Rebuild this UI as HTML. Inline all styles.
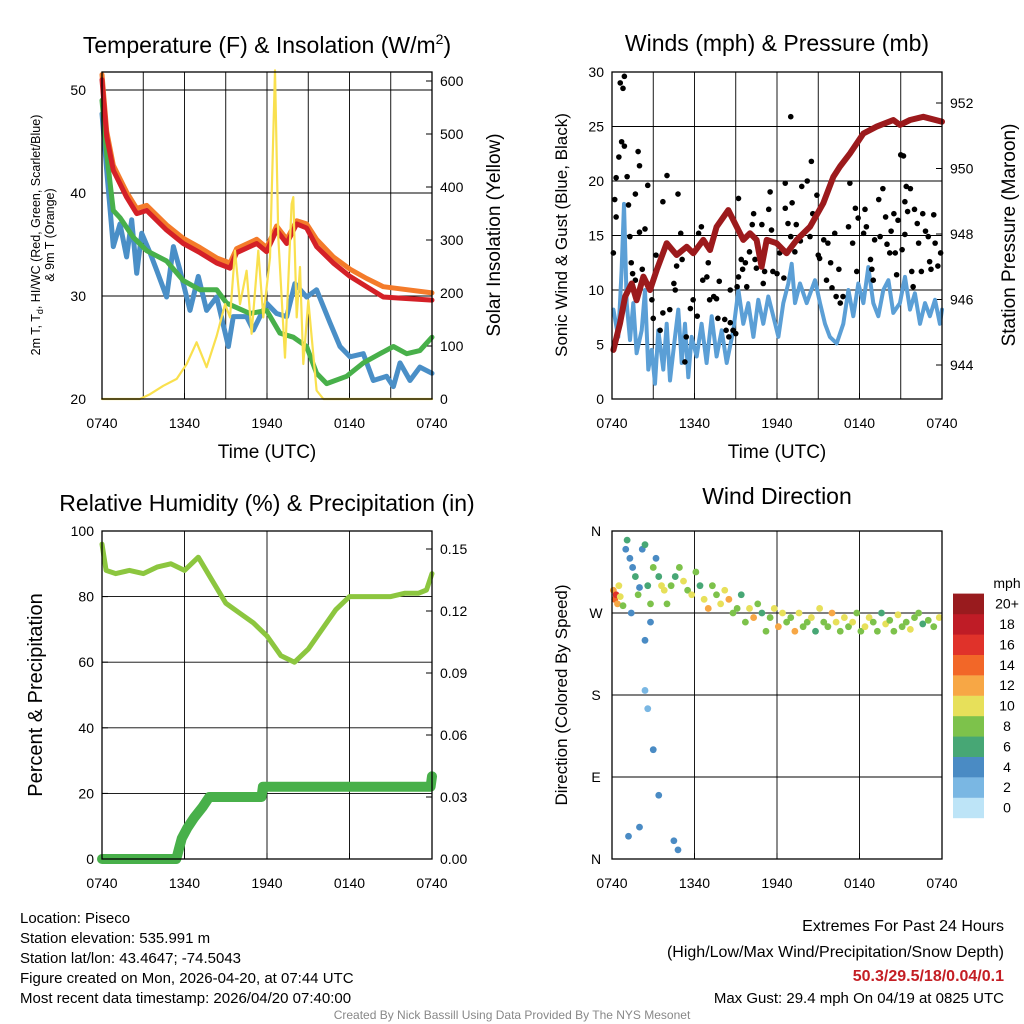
<!DOCTYPE html>
<html><head><meta charset="utf-8"><style>
html,body{margin:0;padding:0;background:#fff}
svg{display:block;font-family:"Liberation Sans",sans-serif}
</style></head><body>
<svg id="fig" width="1024" height="1024" viewBox="0 0 1024 1024" xmlns="http://www.w3.org/2000/svg">
<g><text x="267" y="53" font-size="23" text-anchor="middle">Temperature (F) &amp; Insolation (W/m<tspan dy="-9" font-size="14">2</tspan><tspan dy="9">)</tspan></text></g>
<text x="777" y="51" font-size="23" text-anchor="middle">Winds (mph) &amp; Pressure (mb)</text>
<text x="267" y="511" font-size="23" text-anchor="middle">Relative Humidity (%) &amp; Precipitation (in)</text>
<text x="777" y="504" font-size="23" text-anchor="middle">Wind Direction</text>
<text x="267" y="458" font-size="19" text-anchor="middle">Time (UTC)</text>
<text x="777" y="458" font-size="19" text-anchor="middle">Time (UTC)</text>
<g transform="translate(40,235) rotate(-90)"><text x="0" y="0" font-size="12.5" text-anchor="middle">2m T, T<tspan dy="3" font-size="9">d</tspan><tspan dy="-3">, HI/WC (Red, Green, Scarlet/Blue)</tspan></text><text x="0" y="14" font-size="12.5" text-anchor="middle">&amp; 9m T (Orange)</text></g>
<text transform="translate(500,235) rotate(-90)" font-size="19" text-anchor="middle">Solar Insolation (Yellow)</text>
<text transform="translate(567,235) rotate(-90)" font-size="17" text-anchor="middle">Sonic Wind &amp; Gust (Blue, Black)</text>
<text transform="translate(1015,235) rotate(-90)" font-size="19" text-anchor="middle">Station Pressure (Maroon)</text>
<text transform="translate(42,695) rotate(-90)" font-size="20" text-anchor="middle">Percent &amp; Precipitation</text>
<text transform="translate(567,695) rotate(-90)" font-size="17" text-anchor="middle">Direction (Colored By Speed)</text>
<g font-size="15">
<text x="20" y="923">Location: Piseco</text>
<text x="20" y="943">Station elevation: 535.991 m</text>
<text x="20" y="963">Station lat/lon: 43.4647; -74.5043</text>
<text x="20" y="983">Figure created on Mon, 2026-04-20, at 07:44 UTC</text>
<text x="20" y="1003">Most recent data timestamp: 2026/04/20 07:40:00</text>
</g>
<g font-size="16" text-anchor="end">
<text x="1004" y="931">Extremes For Past 24 Hours</text>
<text x="1004" y="957">(High/Low/Max Wind/Precipitation/Snow Depth)</text>
<text x="1004" y="981" fill="#c41e24" font-weight="bold">50.3/29.5/18/0.04/0.1</text>
<text x="1004" y="1003" font-size="15">Max Gust: 29.4 mph On 04/19 at 0825 UTC</text>
</g>
<text x="512" y="1019" font-size="12" fill="#888" text-anchor="middle">Created By Nick Bassill Using Data Provided By The NYS Mesonet</text>
<g id="marks"></g>
</svg>
<script>
// ---- data ----
const timeLabels = ["0740","1340","1940","0140","0740"];
const redHours = [0,0.34,0.82,1.79,2.52,3.25,4.70,5.91,7.13,8.34,9.31,9.79,11.25,11.97,12.70,13.43,14.16,14.88,15.61,16.82,18.04,19.25,20.46,21.67,24];
const tempRed =    [51,45.5,42.2,39.6,38,38.3,36.4,35.1,34.2,33.2,32.7,34.2,35.1,34.3,36.4,35.1,37,36.6,34.8,33.2,31.9,30.9,29.9,29.8,29.6];
const tempOrange = [51.5,46,42.7,40.1,38.5,38.8,36.9,35.6,34.7,33.7,33.2,34.6,35.5,34.7,36.8,35.5,37.3,37,35.5,33.8,32.6,31.7,30.9,30.7,30.3];
const greenHours = [0,0.34,0.82,1.31,2.28,3.25,4.70,5.91,7.13,8.34,9.07,10.76,11.97,12.94,13.91,14.88,15.61,16.34,17.79,19.0,20.22,21.19,22.16,23.12,24];
const tempGreen =  [49,43.8,38.3,37.6,35.7,34.4,33.4,31.5,30.6,30.6,29.3,28.3,28.6,26.4,26,25.1,22.5,21.5,22.2,23.5,24.4,25.1,24.4,24.7,26];
const blueHours = [0,0.34,0.82,1.31,1.79,2.16,2.52,2.89,3.49,3.98,4.70,5.19,5.67,6.40,7.0,7.61,8.34,9.19,9.55,10.52,11.0,11.97,12.70,13.43,14.03,14.88,15.61,16.58,17.31,18.04,19.0,19.73,20.70,21.19,21.67,22.40,23.12,24];
const tempBlue =  [47.7,42.2,34.8,37,33.8,37.4,32.2,36.1,34.2,32.5,29.9,34.8,32.5,28.6,31.9,28.6,29.9,25.1,28,28,26.7,29.3,28.3,28,31.2,29.9,30.6,27.4,25.1,24.1,24.4,21.8,22.2,21.2,23.5,21.8,23.1,22.5];
const solarHours = [0,2.76,3.49,4.46,5.43,6.16,6.88,7.61,8.34,8.95,9.31,9.67,10.04,10.52,10.88,11.37,11.73,12.22,12.58,12.82,13.31,13.79,13.91,14.16,14.40,14.64,15.0,15.61,16.1,24];
const solarVals =  [0,0,9,25,38,66,107,60,119,179,154,280,179,242,123,280,154,267,620,305,78,368,381,154,249,66,186,16,0,0];
const windHours = [0.10,0.46,0.70,0.87,1.07,1.31,1.55,1.79,2.16,2.40,2.64,2.89,3.13,3.37,3.73,3.98,4.22,4.58,4.82,5.07,5.31,5.55,5.79,6.16,6.52,6.88,7.25,7.61,7.98,8.34,8.82,9.19,9.55,9.91,10.28,10.64,11.0,11.37,11.73,12.1,12.46,12.82,13.07,13.31,13.67,14.16,14.76,15.13,15.49,15.85,16.34,16.82,17.19,17.55,17.91,18.28,18.64,19.0,19.37,19.73,20.1,20.46,20.94,21.31,21.67,22.03,22.4,22.76,23.12,23.49,23.85,24];
const windVals = [8.2,5.7,11.8,17.9,8.8,5.4,8.8,4.2,6.3,10,2.7,4.5,1.4,6.3,2.7,6.9,1.7,5.7,8.2,3.3,6.9,2.0,5.7,3.9,6.9,3.3,7.6,3.9,6.3,3.3,6.3,10,6.9,8.8,5.7,9.1,6.9,9.4,7.6,5.7,8.8,10.6,12.4,8.8,10.6,8.8,10.9,8.8,6.9,5.7,5.1,6.9,10,7.6,10.6,8.8,12.1,8.8,7.6,10,10.9,7.9,8.8,11.2,8.2,9.7,6.9,8.8,7.6,9.1,6.9,8.2];
const gustHours = [0.6,0.9,0.8,0.7,0.9,0.5,0.3,1.1,0.2,0.3,1.2,0.1,1.3,1.4,1.5,1.7,1.9,2.0,1.7,2.2,2.0,2.4,2.6,2.9,3.0,3.2,3.5,3.7,3.7,4.0,4.2,4.5,4.6,4.7,4.8,5.0,5.1,5.4,5.3,5.7,5.9,6.2,6.3,6.5,6.6,6.9,7.0,7.1,7.4,7.6,7.7,7.8,8.2,8.3,8.5,8.6,8.8,9.0,8.6,9.2,9.2,9.1,9.4,9.5,9.7,9.8,10.0,10.2,10.3,10.4,10.5,10.9,11.0,11.1,11.4,11.5,11.6,11.7,12.0,12.2,12.5,12.6,12.6,12.8,13.0,13.0,13.1,13.3,13.4,13.7,13.8,14.2,14.4,14.5,14.6,14.9,15.0,15.1,15.4,15.6,15.7,15.9,16.0,16.2,16.3,16.5,16.6,16.8,17.2,17.3,17.5,17.7,17.8,17.9,18.3,18.4,18.5,18.8,18.9,19.0,19.1,19.4,19.5,19.7,19.9,20.0,20.2,20.3,20.5,20.6,20.7,20.8,21.0,21.2,21.1,21.3,21.3,21.4,21.7,21.5,21.8,21.9,22.0,22.2,22.3,22.5,22.6,22.8,23.0,23.1,23.2,23.4,23.5,23.7,23.9];
const gustVals = [29,29.6,28.5,23.6,23.2,22.2,20.3,20.4,18.3,16.7,17.8,13.4,14.9,12.5,11.5,10.9,22.7,21.4,18.8,11.9,15.3,15.6,19.6,9.1,7.4,13.2,6.3,18.1,7.9,20.5,8.2,10.6,10,12.2,18.8,15.2,12.8,5.7,3.4,8.3,9.1,7.6,15.2,15.8,10.9,11.2,12.5,9.1,9.4,9.2,7.4,10.8,7.3,6.3,5.7,7,6.3,6,10,18.4,11.2,10.3,12.8,11.9,12.5,10.3,13.5,16,17,12.8,12,16,10.6,11.7,17.4,19,15.5,11.7,11.5,13.4,11.1,17.5,19.8,16.1,25.9,14.9,18,13.5,16,14.5,19.5,20,14.9,21.8,17,18.7,13.2,12.9,14.6,10.9,14.3,12.5,10.2,15.2,9.4,11.9,8.8,9.4,15.8,19.8,14.3,17.5,11.7,16.6,15.2,17.4,15.8,12.8,11.9,10.9,14.6,18.3,14.9,19.3,16.7,14.2,13.4,15.4,17,13.4,11.4,16.4,22.4,22.3,13.7,15.1,18.1,19.5,19.3,17.2,11.7,10.3,17.4,16.1,14.3,11.7,17,15.4,14.9,12.6,11.9,16.9,14.3,12.2,13.4];
const presHours = [0.1,0.58,0.95,1.43,1.79,2.28,2.76,3.25,3.98,4.70,5.43,5.91,6.64,7.13,7.61,8.46,9.07,9.55,10.04,10.52,10.88,11.25,11.97,12.70,13.43,14.40,15.37,16.1,16.58,17.31,18.28,19.25,20.46,20.94,21.67,22.64,24];
const presVals = [944.46,945.27,946.09,946.49,945.98,946.7,946.29,946.9,947.72,947.36,947.61,947.41,947.82,947.51,948.22,948.73,948.22,947.82,948.02,947.82,947.0,947.82,947.72,947.41,947.82,948.22,948.94,949.75,950.06,950.46,951.07,951.28,951.48,951.33,951.48,951.58,951.43];
const rhHours = [0,0.3,1,2,3,4,5,6,7,8,9,10,11,12,13,14,15,16,17,18,19,20,21,22,23,23.6,24];
const rhVals = [96,88,87,88,87,89,90,88,92,85,78,75,72,68,62,60,64,70,76,80,80,80,80,81,81,82,87];
const precipHours = [0,5.4,5.6,5.8,6.2,6.7,7.3,7.8,11.6,11.7,23.9,24];
const precipVals = [0,0,0.005,0.01,0.015,0.02,0.025,0.03,0.03,0.035,0.035,0.04];
const dirHours = [0.1,0.2,0.3,0.4,0.5,0.6,0.8,1,1.1,1.3,1.5,1.7,1.9,2,2.2,2.4,2.6,2.8,3,3.2,3.4,3.6,3.8,4,4.3,4.6,4.9,5.2,5.5,5.8,6.1,6.4,6.7,7,7.3,7.6,7.9,8.2,8.5,8.8,9.1,9.4,9.7,10,10.3,10.6,10.9,11.2,11.5,11.8,12.1,12.4,12.7,13,13.3,13.6,13.9,14.2,14.5,14.8,15.1,15.4,15.7,16,16.3,16.6,16.9,17.2,17.5,17.8,18.1,18.4,18.7,19,19.3,19.6,19.9,20.2,20.5,20.8,21.1,21.4,21.7,22,22.3,22.6,23,23.4,23.8,2.4,2.6,3,3.4,4.5,4.8,1.2,2,2.4,1.4,2.8];
const dirVals = [295,285,290,280,300,288,278,340,350,330,320,310,290,298,340,345,300,280,320,330,310,300,295,280,300,310,320,305,295,290,315,300,285,275,300,290,280,295,285,270,275,290,260,275,265,280,270,250,265,275,255,270,260,265,250,270,255,260,265,250,275,260,255,270,260,250,265,255,260,270,250,255,265,260,250,270,258,262,250,268,255,260,252,265,270,258,262,255,265,185,165,120,70,20,10,25,35,240,270,260];
const dirSpeeds = [12,14,16,11,10,9,8,4,5,3,4,6,7,4,3,5,6,8,7,4,5,9,10,8,7,6,8,9,7,10,8,6,9,12,7,8,10,9,11,7,8,6,7,9,11,8,6,7,8,10,11,9,7,8,12,9,7,8,10,6,9,7,8,11,9,8,10,7,9,8,7,9,10,8,7,6,9,8,7,10,8,7,9,8,7,6,8,7,9,2,2,3,4,3,3,4,3,3,4,4];
const speedColors = ["#bde4f7","#7ab7e3","#4a8bc4","#47a775","#7dc24b","#e7e05a","#f7a745","#f26728","#e0322a","#bf1c26","#991b1e"];
const speedLabels = ["0","2","4","6","8","10","12","14","16","18","20+"];

// ---- helpers ----
const NS="http://www.w3.org/2000/svg";
const marks=document.getElementById('marks');
function el(tag,attrs,parent){const e=document.createElementNS(NS,tag);for(const k in attrs)e.setAttribute(k,attrs[k]);(parent||marks).appendChild(e);return e;}
function xScale(x0){return t=>x0+t/24*330;}
function lin(d0,d1,r0,r1){return v=>r0+(v-d0)/(d1-d0)*(r1-r0);}
function pathOf(xs,ys,fx,fy){return xs.map((t,i)=>(i?'L':'M')+fx(t).toFixed(1)+','+fy(ys[i]).toFixed(1)).join('');}
function line(xs,ys,fx,fy,color,w,name){const p=el('path',{d:pathOf(xs,ys,fx,fy),fill:'none',stroke:color,'stroke-width':w,'stroke-linejoin':'round','stroke-linecap':'round'});

return p;}
function txt(x,y,s,anchor,size,name){const t=el('text',{x:x,y:y,'font-size':size||14,'text-anchor':anchor||'middle'});t.textContent=s;

return t;}
function frame(x0,y0,y1,name){const r=el('rect',{x:x0,y:y0,width:330,height:y1-y0,fill:'none',stroke:'#000','stroke-width':1.3});

}
function gridH(x0,y,name){const l=el('line',{x1:x0,x2:x0+330,y1:y,y2:y,stroke:'#000','stroke-width':0.9});

}
function gridV(x,y0,y1,name){const l=el('line',{x1:x,x2:x,y1:y0,y2:y1,stroke:'#000','stroke-width':0.9});

}
function xAxis(x0,y0,y1,prefix,fine){const fx=xScale(x0);
if(fine){for(let h=3;h<24;h+=6)gridV(fx(h),y0,y1,prefix+'-x-minor-gridline');}
timeLabels.forEach((s,i)=>{const x=fx(i*6);if(i>0&&i<4)gridV(x,y0,y1,prefix+'-x-gridline');
const tk=el('line',{x1:x,x2:x,y1:y1,y2:y1-6,stroke:'#000'});


txt(x,y1+29,s,'middle',14,prefix+'-x-tick-label');});}
function yTicks(vals,fy,x,side,fmt,prefix,grid,x0,off){vals.forEach(v=>{const y=fy(v);const tk=el('line',{x1:x,x2:x+(side<0?6:-6),y1:y,y2:y,stroke:'#000'});


if(grid)gridH(x0,y,prefix+'-gridline');
txt(side<0?x-off:x+off,y+5,fmt(v),side<0?'end':'start',14,prefix+'-tick-label');});}

// ---- Panel 1: temperature ----
{const X0=102,Y0=72,Y1=399,fx=xScale(X0),fy=lin(20,50,399,90),fs=lin(0,600,399,81);
xAxis(X0,Y0,Y1,'temp',true);
yTicks([20,30,40,50],fy,X0,-1,v=>v,'temp-y',true,X0,16);
yTicks([0,100,200,300,400,500,600],fs,X0+330,1,v=>v,'solar-y',false,0,8);
line(blueHours,tempBlue,fx,fy,'#4a8fc7',5,'windchill-line');
line(greenHours,tempGreen,fx,fy,'#48b04a',5,'dewpoint-line');
line(redHours,tempOrange,fx,fy,'#f47b2a',5,'temp-9m-line');
line(redHours,tempRed,fx,fy,'#d42027',5,'temp-2m-line');
line(solarHours,solarVals,fx,fs,'#f9e04e',2.2,'solar-insolation-line');
frame(X0,Y0,Y1,'temp-plot-frame');}

// ---- Panel 2: winds ----
{const X0=612,Y0=72,Y1=399,fx=xScale(X0),fy=lin(0,30,399,72),fp=lin(944,952,365,103);
xAxis(X0,Y0,Y1,'wind',true);
yTicks([0,5,10,15,20,25,30],fy,X0,-1,v=>v,'wind-y',true,X0,8);
yTicks([944,946,948,950,952],fp,X0+330,1,v=>v,'pressure-y',false,0,8);
line(windHours,windVals,fx,fy,'#5b9fd6',4,'sonic-wind-line');
gustHours.forEach((t,i)=>{const c=el('circle',{cx:fx(t),cy:fy(gustVals[i]),r:2.8,fill:'#000'});

});
line(presHours,presVals,fx,fp,'#9c1a1c',6,'pressure-line');
frame(X0,Y0,Y1,'wind-plot-frame');}

// ---- Panel 3: humidity ----
{const X0=102,Y0=531,Y1=859,fx=xScale(X0),fy=lin(0,100,859,531),fr=lin(0,0.15,859,549);
xAxis(X0,Y0,Y1,'rh',false);
yTicks([0,20,40,60,80,100],fy,X0,-1,v=>v,'rh-y',true,X0,8);
yTicks([0,0.03,0.06,0.09,0.12,0.15],fr,X0+330,1,v=>v.toFixed(2),'precip-y',false,0,8);
line(rhHours,rhVals,fx,fy,'#8cc63f',5,'relative-humidity-line');
line(precipHours,precipVals,fx,fr,'#48b04a',10,'precipitation-line');
frame(X0,Y0,Y1,'rh-plot-frame');}

// ---- Panel 4: wind direction ----
{const X0=612,Y0=531,Y1=859,fx=xScale(X0),fy=lin(0,360,859,531);
xAxis(X0,Y0,Y1,'dir',false);
const dirTicks=[0,90,180,270,360],dirNames=["N","E","S","W","N"];
dirTicks.forEach((v,i)=>{const y=fy(v);if(i>0&&i<4)gridH(X0,y,'dir-gridline');
txt(X0-16,y+5,dirNames[i],'middle',14,'dir-tick-label');});
dirHours.forEach((t,i)=>{const idx=Math.min(10,Math.round(dirSpeeds[i]/2));
const c=el('circle',{cx:fx(t),cy:fy(dirVals[i]),r:3.4,fill:speedColors[idx]});

});
frame(X0,Y0,Y1,'dir-plot-frame');
txt(1007,588,'mph','middle',14,'colorbar-title');
speedColors.forEach((c,i)=>{const y=818-(i+1)*20.4;
const r=el('rect',{x:953,y:y,width:31,height:20.6,fill:c});


txt(1007,y+15,speedLabels[i],'middle',14,'colorbar-label');});}
</script>
</body></html>
